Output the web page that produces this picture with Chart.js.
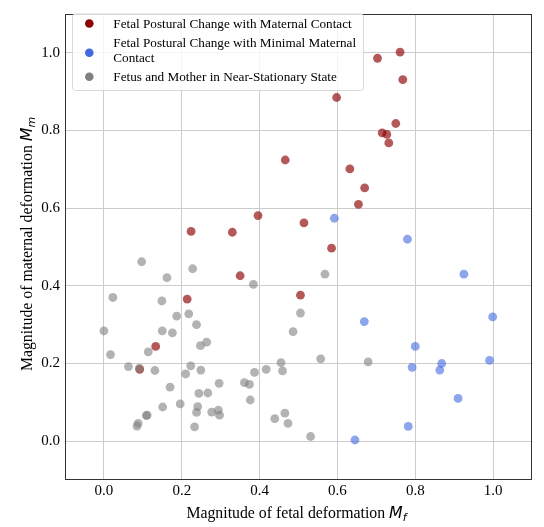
<!DOCTYPE html>
<html>
<head>
<meta charset="utf-8">
<script src="https://cdn.jsdelivr.net/npm/chart.js@4.4.0/dist/chart.umd.min.js"></script>
<style>
  html, body { margin: 0; padding: 0; background: #fff; }
  #wrap { width: 544px; height: 527px; position: relative; }
</style>
</head>
<body>
<div id="wrap"><canvas id="scatterChart" width="544" height="527"></canvas></div>
<script>
// Magnitudes (M_f on x, M_m on y)
const contactX = [0.466, 0.396, 0.224, 0.330, 0.703, 0.761, 0.768, 0.598, 0.750, 0.715, 0.727,
                  0.732, 0.632, 0.670, 0.654, 0.514, 0.350, 0.214, 0.505, 0.133, 0.092, 0.585];
const contactY = [0.724, 0.581, 0.540, 0.538, 0.986, 1.002, 0.931, 0.885, 0.818, 0.794, 0.790,
                  0.768, 0.701, 0.652, 0.610, 0.562, 0.426, 0.366, 0.376, 0.244, 0.185, 0.497];

const minimalX = [0.592, 0.780, 0.925, 0.999, 0.669, 0.800, 0.868, 0.863, 0.792, 0.991, 0.910, 0.782, 0.645];
const minimalY = [0.574, 0.520, 0.430, 0.320, 0.308, 0.244, 0.200, 0.183, 0.190, 0.208, 0.110, 0.038, 0.003];

const stillX = [0.097, 0.228, 0.162, 0.384, 0.023, 0.149, 0.187, 0.218, 0.238, 0.000, 0.150, 0.176,
                0.248, 0.264, 0.114, 0.017, 0.063, 0.091, 0.131, 0.223, 0.210, 0.249, 0.296, 0.170,
                0.244, 0.267, 0.361, 0.374, 0.387, 0.417, 0.455, 0.459, 0.376, 0.196, 0.151, 0.241,
                0.238, 0.277, 0.294, 0.297, 0.111, 0.109, 0.088, 0.085, 0.233, 0.439, 0.465, 0.473,
                0.568, 0.505, 0.486, 0.557, 0.679, 0.531];
const stillY = [0.462, 0.444, 0.421, 0.404, 0.370, 0.361, 0.322, 0.328, 0.300, 0.284, 0.284, 0.279,
                0.246, 0.255, 0.230, 0.223, 0.192, 0.188, 0.182, 0.194, 0.173, 0.183, 0.149, 0.139,
                0.123, 0.124, 0.151, 0.146, 0.177, 0.185, 0.202, 0.181, 0.106, 0.096, 0.088, 0.089,
                0.074, 0.075, 0.080, 0.067, 0.067, 0.066, 0.046, 0.039, 0.037, 0.058, 0.072, 0.046,
                0.430, 0.330, 0.282, 0.212, 0.204, 0.012];

const seriesLabels = [
    ['Fetal Postural Change with Maternal Contact'],
    ['Fetal Postural Change with Minimal Maternal', 'Contact'],
    ['Fetus and Mother in Near-Stationary State']
];
const solidColors = ['#8b0000', '#4169e1', '#808080'];
const fillColors = ['rgba(139, 0, 0, 0.65)', 'rgba(65, 105, 225, 0.6)', 'rgba(128, 128, 128, 0.6)'];

const tickValues = [0.0, 0.2, 0.4, 0.6, 0.8, 1.0];

const serif = "'Liberation Serif', 'Times New Roman', serif";

function toPoints(xs, ys) {
    return xs.map((x, i) => ({ x: x, y: ys[i] }));
}

// frame, legend box and the axis titles (mixed serif + math italic)
const decorPlugin = {
    id: 'decor',
    afterDraw(chart) {
        const ctx = chart.ctx;
        const a = chart.chartArea;
        ctx.save();

        // frame
        ctx.strokeStyle = '#333';
        ctx.lineWidth = 1;
        ctx.strokeRect(a.left + 0.5, a.top + 0.5, a.right - a.left - 1, a.bottom - a.top - 1);

        // legend
        const lx = 72, ly = 13.5, lw = 291, lh = 76.5;
        ctx.beginPath();
        ctx.roundRect(lx + 0.5, ly + 0.5, lw, lh, 3);
        ctx.fillStyle = 'rgba(255,255,255,0.8)';
        ctx.fill();
        ctx.strokeStyle = '#d8d8d8';
        ctx.stroke();

        const rows = [[23.5], [42.5], [57.5], [76.7]];
        const textRows = [[23.5], [42.5, 57.5], [76.7]];
        const markerY = [23.5, 52.7, 76.7];
        ctx.font = '13.2px ' + serif;
        ctx.textBaseline = 'middle';
        seriesLabels.forEach((lines, i) => {
            ctx.beginPath();
            ctx.arc(89.3, markerY[i], 4.3, 0, Math.PI * 2);
            ctx.fillStyle = solidColors[i];
            ctx.fill();
            ctx.fillStyle = '#000';
            lines.forEach((t, j) => ctx.fillText(t, 113.3, textRows[i][j] + 1));
        });

        // x axis title
        const cx = (a.left + a.right) / 2;
        drawTitle(ctx, 'Magnitude of fetal deformation ', 'f', cx - 2, 513);

        // y axis title
        ctx.translate(27, (a.top + a.bottom) / 2 - 3);
        ctx.rotate(-Math.PI / 2);
        drawTitle(ctx, 'Magnitude of maternal deformation ', 'm', 0, 0);

        ctx.restore();
    }
};

function drawTitle(ctx, text, sub, cx, cy) {
    const mainFont = '15.8px ' + serif;
    const mathFont = 'italic 15.8px DejaVu Sans';
    const subFont = 'italic 11px DejaVu Sans';
    ctx.font = mainFont;
    const w1 = ctx.measureText(text).width;
    ctx.font = mathFont;
    const w2 = ctx.measureText('M').width;
    ctx.font = subFont;
    const w3 = ctx.measureText(sub).width;
    let x = cx - (w1 + w2 + w3) / 2;
    ctx.textBaseline = 'alphabetic';
    ctx.textAlign = 'left';
    ctx.fillStyle = '#000';
    const base = cy + 5;
    ctx.font = mainFont;
    ctx.fillText(text, x, base);
    x += w1;
    ctx.font = mathFont;
    ctx.fillText('M', x, base);
    x += w2;
    ctx.font = subFont;
    ctx.fillText(sub, x, base + 2.5);
}

const ctx = document.getElementById('scatterChart').getContext('2d');
const scatterChart = new Chart(ctx, {
    type: 'scatter',
    data: {
        datasets: [{
            label: seriesLabels[2].join(' '),
            data: toPoints(stillX, stillY),
            backgroundColor: fillColors[2],
            order: 0
        }, {
            label: seriesLabels[1].join(' '),
            data: toPoints(minimalX, minimalY),
            backgroundColor: fillColors[1],
            order: 1
        }, {
            label: seriesLabels[0].join(' '),
            data: toPoints(contactX, contactY),
            backgroundColor: fillColors[0],
            order: 2
        }]
    },
    options: {
        responsive: false,
        animation: false,
        events: [],
        elements: {
            point: { radius: 4.4, borderWidth: 0, hoverRadius: 4.4 }
        },
        layout: {
            padding: { left: 0, right: 12, top: 7, bottom: 0 }
        },
        plugins: {
            legend: { display: false },
            tooltip: { enabled: false }
        },
        scales: {
            x: {
                type: 'linear',
                min: -0.1,
                max: 1.1,
                afterBuildTicks: axis => { axis.ticks = tickValues.map(v => ({ value: v })); },
                afterFit: axis => { axis.height = 47; },
                ticks: {
                    color: '#000',
                    font: { family: serif, size: 15 },
                    padding: 2,
                    maxRotation: 0,
                    callback: v => v.toFixed(1)
                },
                grid: { color: '#cccccc', lineWidth: 1, drawTicks: false },
                border: { display: false }
            },
            y: {
                type: 'linear',
                min: -0.1,
                max: 1.1,
                afterBuildTicks: axis => { axis.ticks = tickValues.map(v => ({ value: v })); },
                afterFit: axis => { axis.width = 65; },
                ticks: {
                    color: '#000',
                    font: { family: serif, size: 15 },
                    padding: 5,
                    callback: v => v.toFixed(1)
                },
                grid: { color: '#cccccc', lineWidth: 1, drawTicks: false },
                border: { display: false }
            }
        }
    },
    plugins: [decorPlugin]
});
</script>
</body>
</html>
